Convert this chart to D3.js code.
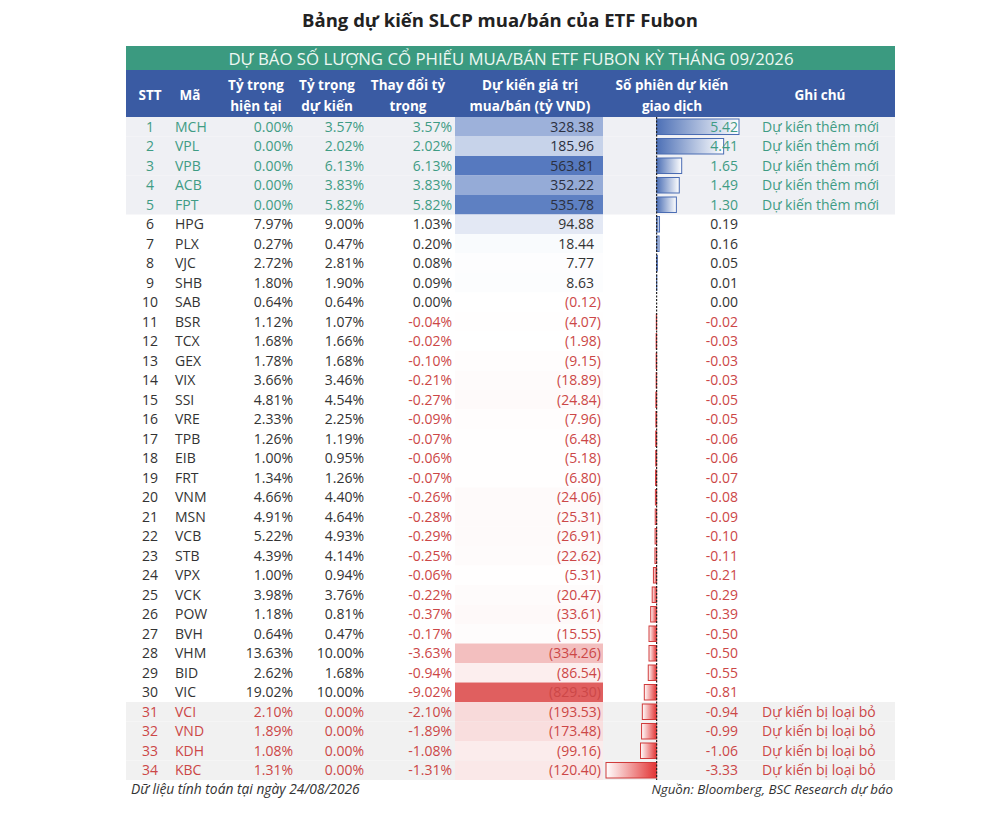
<!DOCTYPE html>
<html lang="vi">
<head>
<meta charset="UTF-8">
<title>Bảng dự kiến SLCP mua/bán của ETF Fubon</title>
<script src="https://cdn.jsdelivr.net/npm/d3@7"></script>
<style>
  body { margin: 0; background: #fff; }
  svg { display: block; font-family: "Open Sans", sans-serif; }
</style>
</head>
<body>
<svg id="chart" width="1000" height="819"></svg>
<script>
// ---- data ----
const codes = ["MCH","VPL","VPB","ACB","FPT","HPG","PLX","VJC","SHB","SAB","BSR","TCX","GEX","VIX","SSI","VRE","TPB","EIB","FRT","VNM","MSN","VCB","STB","VPX","VCK","POW","BVH","VHM","BID","VIC","VCI","VND","KDH","KBC"];
const currentWeight = [0,0,0,0,0,7.97,0.27,2.72,1.80,0.64,1.12,1.68,1.78,3.66,4.81,2.33,1.26,1.00,1.34,4.66,4.91,5.22,4.39,1.00,3.98,1.18,0.64,13.63,2.62,19.02,2.10,1.89,1.08,1.31];
const targetWeight = [3.57,2.02,6.13,3.83,5.82,9.00,0.47,2.81,1.90,0.64,1.07,1.66,1.68,3.46,4.54,2.25,1.19,0.95,1.26,4.40,4.64,4.93,4.14,0.94,3.76,0.81,0.47,10.00,1.68,10.00,0,0,0,0];
const weightChange = [3.57,2.02,6.13,3.83,5.82,1.03,0.20,0.08,0.09,0.00,-0.04,-0.02,-0.10,-0.21,-0.27,-0.09,-0.07,-0.06,-0.07,-0.26,-0.28,-0.29,-0.25,-0.06,-0.22,-0.37,-0.17,-3.63,-0.94,-9.02,-2.10,-1.89,-1.08,-1.31];
const tradeValue = [328.38,185.96,563.81,352.22,535.78,94.88,18.44,7.77,8.63,-0.12,-4.07,-1.98,-9.15,-18.89,-24.84,-7.96,-6.48,-5.18,-6.80,-24.06,-25.31,-26.91,-22.62,-5.31,-20.47,-33.61,-15.55,-334.26,-86.54,-829.30,-193.53,-173.48,-99.16,-120.40];
const sessions = [5.42,4.41,1.65,1.49,1.30,0.19,0.16,0.05,0.01,0.00,-0.02,-0.03,-0.03,-0.03,-0.05,-0.05,-0.06,-0.06,-0.07,-0.08,-0.09,-0.10,-0.11,-0.21,-0.29,-0.39,-0.50,-0.50,-0.55,-0.81,-0.94,-0.99,-1.06,-3.33];
const status = ["add","add","add","add","add","keep","keep","keep","keep","keep","keep","keep","keep","keep","keep","keep","keep","keep","keep","keep","keep","keep","keep","keep","keep","keep","keep","keep","keep","keep","remove","remove","remove","remove"];
const noteText = { add: "Dự kiến thêm mới", remove: "Dự kiến bị loại bỏ", keep: "" };

const title = "Bảng dự kiến SLCP mua/bán của ETF Fubon";
const banner = "DỰ BÁO SỐ LƯỢNG CỔ PHIẾU MUA/BÁN ETF FUBON KỲ THÁNG 09/2026";
const headers = [
  { lines: ["STT"], x: 150 },
  { lines: ["Mã"], x: 190 },
  { lines: ["Tỷ trọng", "hiện tại"], x: 256 },
  { lines: ["Tỷ trọng", "dự kiến"], x: 327 },
  { lines: ["Thay đổi tỷ", "trọng"], x: 408 },
  { lines: ["Dự kiến giá trị", "mua/bán (tỷ VND)"], x: 530 },
  { lines: ["Số phiên dự kiến", "giao dịch"], x: 672 },
  { lines: ["Ghi chú"], x: 820 }
];
const footLeft = "Dữ liệu tính toán tại ngày 24/08/2026";
const footRight = "Nguồn: Bloomberg, BSC Research dự báo";

const rows = codes.map((c, i) => ({
  stt: i + 1, code: c, cur: currentWeight[i], tgt: targetWeight[i],
  chg: weightChange[i], val: tradeValue[i], ses: sessions[i], st: status[i]
}));

// ---- layout ----
const left = 126, right = 895;
const svg = d3.select("#chart");

const y = d3.scaleBand().domain(codes).range([117, 780]);
const xSes = d3.scaleLinear().domain([-3.33, 5.42]).range([606, 739]);
const valColor = d3.scaleLinear().domain([-829.30, 0, 563.81]).range(["#e05f5f", "#ffffff", "#5679bf"]);

const teal = "#3f9c84", red = "#cc4747", dark = "#333333";
function textColor(d, col) {
  if (d.st === "add") return col === "val" ? "#2b3040" : teal;
  if (d.st === "remove") return red;
  if (col === "chg") return d.chg < 0 ? red : dark;
  if (col === "val") return d.val < 0 ? red : dark;
  if (col === "ses") return d.ses < 0 ? red : dark;
  return dark;
}

// gradients for the data bars
const defs = svg.append("defs");
const gBlue = defs.append("linearGradient").attr("id", "gBlue");
gBlue.append("stop").attr("offset", "0%").attr("stop-color", "#4d70b6");
gBlue.append("stop").attr("offset", "100%").attr("stop-color", "#ffffff");
const gRed = defs.append("linearGradient").attr("id", "gRed");
gRed.append("stop").attr("offset", "0%").attr("stop-color", "#ffffff");
gRed.append("stop").attr("offset", "100%").attr("stop-color", "#e23333");

// title
svg.append("text").attr("x", 500).attr("y", 27).attr("text-anchor", "middle")
  .attr("font-size", 18.5).attr("font-weight", 700).attr("fill", "#222").text(title);

// banner + header
svg.append("rect").attr("x", left).attr("y", 46).attr("width", right - left).attr("height", 24).attr("fill", "#3b9a80");
svg.append("text").attr("x", 511).attr("y", 64.5).attr("text-anchor", "middle")
  .attr("font-size", 16.8).attr("fill", "#eef7f3").text(banner);
svg.append("rect").attr("x", left).attr("y", 70).attr("width", right - left).attr("height", 47).attr("fill", "#3a5ba3");

const hd = svg.append("g").attr("fill", "#fff").attr("font-weight", 700).attr("font-size", 13.5).attr("text-anchor", "middle");
headers.forEach(h => {
  const ys = h.lines.length === 1 ? [100] : [90, 111];
  h.lines.forEach((l, k) => hd.append("text").attr("x", h.x).attr("y", ys[k]).text(l));
});

// row backgrounds
svg.append("g").selectAll("rect").data(rows.filter(d => d.st !== "keep")).join("rect")
  .attr("x", left).attr("y", d => y(d.code)).attr("width", right - left).attr("height", y.bandwidth())
  .attr("fill", d => d.st === "add" ? "#eff0f4" : "#f1f1f1");

// value cell colour scale
svg.append("g").selectAll("rect").data(rows).join("rect")
  .attr("x", 455).attr("y", d => y(d.code)).attr("width", 148).attr("height", y.bandwidth())
  .attr("fill", d => valColor(d.val));

// session data bars
const bh = y.bandwidth() - 4;
svg.append("g").selectAll("rect").data(rows.filter(d => d.ses !== 0)).join("rect")
  .attr("x", d => Math.min(xSes(0), xSes(d.ses)))
  .attr("y", d => y(d.code) + 2)
  .attr("width", d => Math.abs(xSes(d.ses) - xSes(0)))
  .attr("height", bh)
  .attr("fill", d => d.ses > 0 ? "url(#gBlue)" : "url(#gRed)")
  .attr("stroke", d => d.ses > 0 ? "#4a6cb3" : "#d03a3a")
  .attr("stroke-width", 1);

svg.append("line").attr("x1", xSes(0)).attr("x2", xSes(0)).attr("y1", 117).attr("y2", 780)
  .attr("stroke", "#222").attr("stroke-width", 1.2).attr("stroke-dasharray", "2,1.5");

// cell texts (hyphen minus, as in the source)
const loc = d3.formatLocale({ decimal: ".", thousands: ",", grouping: [3], currency: ["", ""], minus: "-" });
const f2 = loc.format(".2f");
const cols = [
  { key: "stt", x: 150, anchor: "middle", fmt: d => d.stt },
  { key: "code", x: 175, anchor: "start", fmt: d => d.code },
  { key: "cur", x: 293, anchor: "end", fmt: d => f2(d.cur) + "%" },
  { key: "tgt", x: 364, anchor: "end", fmt: d => f2(d.tgt) + "%" },
  { key: "chg", x: 452, anchor: "end", fmt: d => f2(d.chg) + "%" },
  { key: "val", x: 601, anchor: "end", fmt: d => d.val < 0 ? "(" + f2(-d.val) + ")" : f2(d.val) + "\u2002" },
  { key: "ses", x: 738, anchor: "end", fmt: d => f2(d.ses) },
  { key: "note", x: 762, anchor: "start", fmt: d => noteText[d.st] }
];
const body = svg.append("g").attr("font-size", 14);
cols.forEach(c => {
  body.append("g").selectAll("text").data(rows).join("text")
    .attr("x", c.x).attr("y", d => y(d.code) + y.bandwidth() / 2 + 5)
    .attr("text-anchor", c.anchor)
    .attr("fill", d => textColor(d, c.key))
    .attr("xml:space", "preserve")
    .text(c.fmt);
});

// footer
svg.append("text").attr("x", 131).attr("y", 794).attr("font-size", 13.8).attr("font-style", "italic")
  .attr("fill", "#333").text(footLeft);
svg.append("text").attr("x", 893).attr("y", 794).attr("text-anchor", "end").attr("font-size", 13.3)
  .attr("font-style", "italic").attr("fill", "#333").text(footRight);
</script>
</body>
</html>
